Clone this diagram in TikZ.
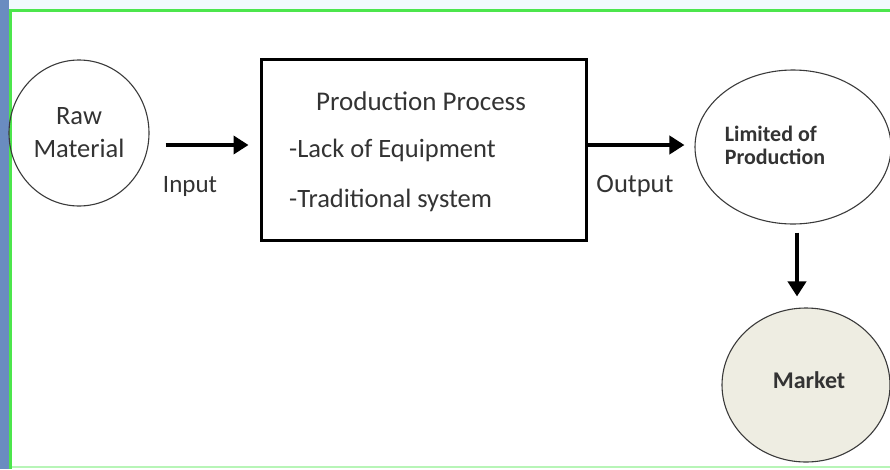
\documentclass[tikz,border=0pt]{standalone}
\usepackage{fontspec}
\setmainfont{Carlito}
\usetikzlibrary{arrows.meta,shapes.geometric,calc}
\definecolor{txtgray}{HTML}{333333}
\definecolor{linegray}{HTML}{3A3A3A}
\definecolor{frameblue}{HTML}{6A8CC0}
\definecolor{framegreen}{HTML}{4CE64C}
\definecolor{topstrip}{HTML}{F2FAFC}
\definecolor{marketfill}{HTML}{EEEDE2}
\begin{document}
\begin{tikzpicture}[x=1pt,y=-1pt,
  bubble/.style={draw=linegray,line width=1.1pt,ellipse,inner sep=0pt},
  txt/.style={text=txtgray,inner sep=0pt},
  arr/.style={line width=4.5pt,-{Triangle[length=15pt,width=18pt]}},
  procbox/.style={draw=black,line width=3pt,rectangle,inner sep=0pt}]
\useasboundingbox (0,0) rectangle (890,469);
% frame
\fill[topstrip] (0,0) rectangle (890,9);
\fill[frameblue] (0,0) rectangle (9,469);
\fill[framegreen] (9,9) rectangle (890,12);
\fill[framegreen] (9,9) rectangle (12,469);
\fill[framegreen!40] (12,466) rectangle (890,468);
% nodes
\node[bubble,minimum width=140pt,minimum height=146pt,
  txt,text=txtgray,align=center,font=\fontsize{26.5}{33}\selectfont] (raw) at (79,133) {Raw\\Material};
\node[procbox,minimum width=325pt,minimum height=181pt] (box) at (423.5,149.5) {};
\node[txt,anchor=base,font=\fontsize{27}{30}\selectfont] (t1) at (421,110) {Production Process};
\node[txt,anchor=base west,font=\fontsize{26.5}{30}\selectfont] (t2) at (289,157) {-Lack of Equipment};
\node[txt,anchor=base west,font=\fontsize{26.5}{30}\selectfont] (t3) at (289,207) {-Traditional system};
\node[bubble,minimum width=196pt,minimum height=154pt] (lim) at (793,147) {};
\node[txt,align=left,font=\bfseries\fontsize{22}{23}\selectfont] (limtext) at (775,145) {Limited of\\Production};
\node[bubble,fill=marketfill,minimum width=168pt,minimum height=154pt] (market) at (806,385) {};
\node[txt,font=\bfseries\fontsize{24}{26}\selectfont] (mtext) at (809,380) {Market};
% connectors
\draw[arr,shorten >=11pt] (raw.east) ++(16,12) coordinate (a1) -- (a1 -| box.west);
\draw[arr,shorten >=10pt] (box.east) ++(0,-4.5) coordinate (a2) -- (a2 -| lim.west);
\draw[arr,shorten >=11pt] (lim.south) ++(4,8) coordinate (a3) -- (a3 |- market.north);
% labels
\node[txt,font=\fontsize{25}{30}\selectfont] (inlab) at (190,186) {Input};
\node[txt,font=\fontsize{26.5}{30}\selectfont] (outlab) at (635,186) {Output};
\end{tikzpicture}
\end{document}
